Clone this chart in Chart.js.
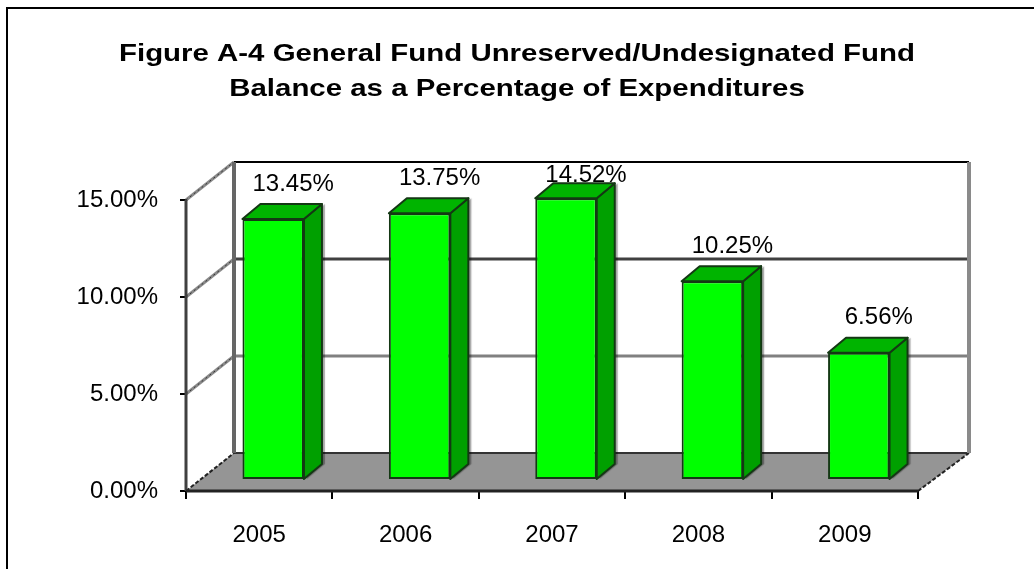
<!DOCTYPE html>
<html>
<head>
<meta charset="utf-8">
<script src="https://cdn.jsdelivr.net/npm/chart.js@4"></script>
<style>
  html, body { margin: 0; padding: 0; background: #fff; }
  canvas { display: block; }
</style>
</head>
<body>
<canvas id="chart" width="1034" height="569"></canvas>
<script>
const years = ["2005", "2006", "2007", "2008", "2009"];
const balancePct = [13.45, 13.75, 14.52, 10.25, 6.56];
const yMax = 15;
const yStep = 5;
const titleLines = [
  "Figure A-4 General Fund Unreserved/Undesignated Fund",
  "Balance as a Percentage of Expenditures",
];

// depth of the "3D" floor and of each bar
const FLOOR_DX = 48, FLOOR_DY = -38;
const BAR_SHIFT_X = 14, BAR_SHIFT_Y = -11;
const BAR_DX = 18, BAR_DY = -15;

const fontName = "'Liberation Sans', Arial, sans-serif";

// white page, outer frame and the (horizontally stretched) title
const frame = {
  id: "frame",
  beforeDraw(chart) {
    const ctx = chart.ctx;
    ctx.save();
    ctx.fillStyle = "#fff";
    ctx.fillRect(0, 0, chart.width, chart.height);
    ctx.strokeStyle = "#000";
    ctx.lineWidth = 2;
    ctx.strokeRect(7, 8, chart.width + 50, chart.height + 50);

    ctx.font = "bold 24px " + fontName;
    ctx.fillStyle = "#000";
    ctx.textAlign = "center";
    ctx.textBaseline = "alphabetic";
    const stretch = 796 / ctx.measureText(titleLines[0]).width;
    const cx = chart.width / 2;
    titleLines.forEach((t, i) => {
      ctx.save();
      ctx.translate(cx, 61 + i * 35);
      ctx.scale(stretch, 1);
      ctx.fillText(t, 0, 0);
      ctx.restore();
    });
    ctx.restore();
  }
};

function line(ctx, x1, y1, x2, y2, color, width, dash) {
  ctx.beginPath();
  ctx.strokeStyle = color;
  ctx.lineWidth = width;
  ctx.setLineDash(dash || []);
  ctx.moveTo(x1, y1);
  ctx.lineTo(x2, y2);
  ctx.stroke();
  ctx.setLineDash([]);
}

const walls = {
  id: "walls",
  beforeDatasetsDraw(chart) {
    const ctx = chart.ctx;
    const a = chart.chartArea;
    const y = chart.scales.y;
    const L = a.left, R = a.right, B = a.bottom;
    ctx.save();

    // floor
    ctx.beginPath();
    ctx.moveTo(L, B);
    ctx.lineTo(R, B);
    ctx.lineTo(R + FLOOR_DX + 3, B + FLOOR_DY);
    ctx.lineTo(L + FLOOR_DX, B + FLOOR_DY);
    ctx.closePath();
    ctx.fillStyle = "#959595";
    ctx.fill();
    line(ctx, L + FLOOR_DX, B + FLOOR_DY, R + FLOOR_DX + 3, B + FLOOR_DY, "#333", 2);
    line(ctx, L, B, L + FLOOR_DX, B + FLOOR_DY, "#222", 2, [4, 2]);
    line(ctx, R, B, R + FLOOR_DX + 3, B + FLOOR_DY, "#222", 2, [4, 2]);

    // back wall gridlines
    for (let v = yStep; v <= yMax; v += yStep) {
      const py = y.getPixelForValue(v) + FLOOR_DY;
      const col = v === yMax ? "#000" : (v === 10 ? "#404040" : "#808080");
      line(ctx, L + FLOOR_DX, py, R + FLOOR_DX + 3, py, col, v === yMax ? 2 : 3);
      // side wall slants
      const fy = y.getPixelForValue(v);
      line(ctx, L, fy, L + FLOOR_DX, fy + FLOOR_DY, "#8a8a8a", 3);
      line(ctx, L, fy, L + FLOOR_DX, fy + FLOOR_DY, "#333", 1, [2, 3]);
    }
    const topFront = y.getPixelForValue(yMax);
    // wall edges
    line(ctx, L + FLOOR_DX, topFront + FLOOR_DY, L + FLOOR_DX, B + FLOOR_DY, "#666", 4);
    line(ctx, R + FLOOR_DX + 3, topFront + FLOOR_DY, R + FLOOR_DX + 3, B + FLOOR_DY, "#8a8a8a", 4);
    line(ctx, L, topFront, L, B, "#404040", 3);
    line(ctx, L, B, R, B, "#222", 3);

    // bars' front faces are drawn by Chart.js, shifted into the depth
    ctx.restore();
    ctx.save();
    ctx.translate(BAR_SHIFT_X, BAR_SHIFT_Y);
  },
  afterDatasetsDraw(chart) {
    const ctx = chart.ctx;
    ctx.restore();
    ctx.save();
    const wallTop = chart.scales.y.getPixelForValue(yMax) + FLOOR_DY;
    const meta = chart.getDatasetMeta(0);
    meta.data.forEach((bar, i) => {
      const p = bar.getProps(["x", "y", "base", "width"], true);
      const xl = p.x - p.width / 2 + BAR_SHIFT_X;
      const xr = p.x + p.width / 2 + BAR_SHIFT_X;
      const top = p.y + BAR_SHIFT_Y;
      const base = p.base + BAR_SHIFT_Y;
      ctx.lineJoin = "round";
      ctx.lineWidth = 2;
      ctx.strokeStyle = "#143814";
      // side face with a soft shadow
      ctx.save();
      ctx.shadowColor = "rgba(0,0,0,0.35)";
      ctx.shadowOffsetX = 3;
      ctx.shadowBlur = 1;
      ctx.beginPath();
      ctx.moveTo(xr, top);
      ctx.lineTo(xr + BAR_DX, top + BAR_DY);
      ctx.lineTo(xr + BAR_DX, base + BAR_DY);
      ctx.lineTo(xr, base);
      ctx.closePath();
      ctx.fillStyle = "#00A000";
      ctx.fill();
      ctx.restore();
      ctx.stroke();
      // top face
      ctx.beginPath();
      ctx.moveTo(xl, top);
      ctx.lineTo(xl + BAR_DX, top + BAR_DY);
      ctx.lineTo(xr + BAR_DX, top + BAR_DY);
      ctx.lineTo(xr, top);
      ctx.closePath();
      ctx.fillStyle = "#00B400";
      ctx.fill();
      ctx.stroke();

      // value label, kept inside the back wall's top edge
      ctx.fillStyle = "#000";
      ctx.font = "24px " + fontName;
      ctx.textAlign = "center";
      ctx.textBaseline = "middle";
      const ly = Math.max(top - 35, wallTop + 13);
      ctx.fillText(balancePct[i].toFixed(2) + "%", (xl + xr) / 2 + 20, ly);
    });
    ctx.restore();
  }
};

new Chart(document.getElementById("chart"), {
  type: "bar",
  data: {
    labels: years,
    datasets: [
      {
        data: balancePct,
        backgroundColor: "#00FF00",
        borderColor: "#143814",
        borderWidth: 2,
        borderSkipped: false,
        categoryPercentage: 1,
        barPercentage: 0.42,
      },
    ],
  },
  options: {
    responsive: false,
    animation: false,
    layout: {
      padding: {top: 200, left: 0, right: 116, bottom: 0},
    },
    plugins: {
      legend: {display: false},
      tooltip: {enabled: false},
      title: {display: false},
    },
    scales: {
      y: {
        min: 0,
        max: yMax,
        afterFit: (s) => { s.width = 186; },
        border: {display: false},
        grid: {
          drawOnChartArea: false,
          drawTicks: true,
          tickLength: 6,
          color: "#000",
          lineWidth: 2,
        },
        ticks: {
          stepSize: yStep,
          padding: 22,
          color: "#000",
          font: {family: fontName, size: 24},
          callback: (v) => v.toFixed(2) + "%",
        },
      },
      x: {
        afterFit: (s) => { s.height = 78; },
        border: {display: false},
        grid: {
          drawOnChartArea: false,
          drawTicks: true,
          tickLength: 8,
          color: "#000",
          lineWidth: 2,
        },
        ticks: {
          padding: 22,
          color: "#000",
          font: {family: fontName, size: 24},
        },
      },
    },
  },
  plugins: [frame, walls],
});
</script>
</body>
</html>
